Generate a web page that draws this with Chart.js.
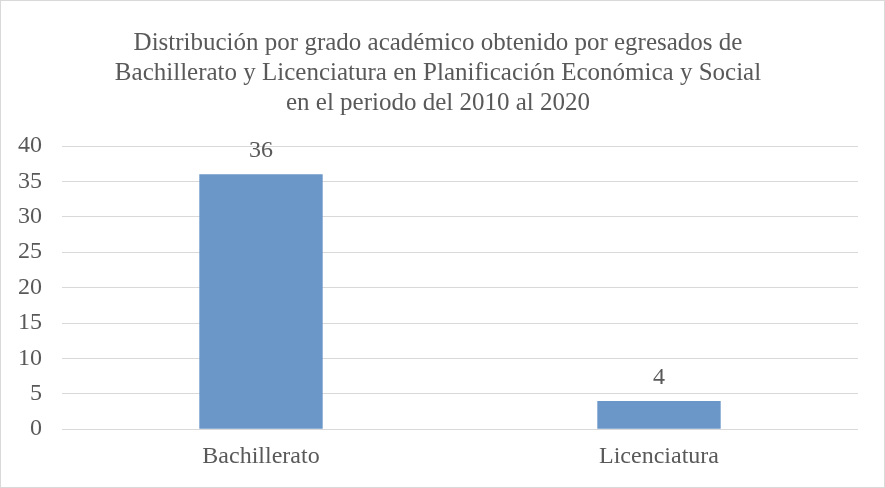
<!DOCTYPE html>
<html>
<head>
<meta charset="utf-8">
<script src="https://cdn.jsdelivr.net/npm/chart.js@4.4.1/dist/chart.umd.min.js"></script>
<style>
html,body{margin:0;padding:0;background:#fff;}
#wrap{position:absolute;left:0;top:0;width:883px;height:486px;border:1px solid #d9d9d9;background:#fff;}
canvas{display:block;}
</style>
</head>
<body>
<div id="wrap"><canvas id="c" width="883" height="486"></canvas></div>
<script>
const categories = ["Bachillerato", "Licenciatura"];
const values = [36, 4];
const titleLines = [
  "Distribución por grado académico obtenido por egresados de",
  "Bachillerato y Licenciatura en Planificación Económica y Social",
  "en el periodo del 2010 al 2020"
];
const yMin = 0, yMax = 40, yStep = 5;

const FONT = "'Liberation Serif', 'Times New Roman', serif";
const TEXT = "#595959";

const dataLabelPlugin = {
  id: 'dataLabels',
  afterDatasetsDraw(chart) {
    const ctx = chart.ctx;
    const meta = chart.getDatasetMeta(0);
    ctx.save();
    ctx.font = "24px " + FONT;
    ctx.fillStyle = TEXT;
    ctx.textAlign = 'center';
    ctx.textBaseline = 'alphabetic';
    meta.data.forEach((bar, i) => {
      ctx.fillText(String(chart.data.datasets[0].data[i]), bar.x, bar.y - 17);
    });
    ctx.restore();
  }
};

new Chart(document.getElementById('c'), {
  type: 'bar',
  data: {
    labels: categories,
    datasets: [{
      data: values,
      backgroundColor: '#6a96c8',
      borderWidth: 0,
      categoryPercentage: 1,
      barPercentage: 0.31
    }]
  },
  options: {
    responsive: false,
    animation: false,
    devicePixelRatio: 1,
    layout: { padding: { left: 17, right: 26, top: 0, bottom: 11 } },
    plugins: {
      legend: { display: false },
      tooltip: { enabled: false },
      title: {
        display: true,
        text: titleLines,
        color: TEXT,
        font: { family: FONT, size: 25, weight: 'normal', lineHeight: 1.2 },
        padding: { top: 27, bottom: 28 }
      }
    },
    scales: {
      x: {
        grid: { display: false },
        border: { display: false },
        ticks: { color: TEXT, font: { family: FONT, size: 24 }, padding: 5 }
      },
      y: {
        min: yMin, max: yMax,
        afterFit(scale) { scale.width = 44; },
        ticks: { stepSize: yStep, color: TEXT, font: { family: FONT, size: 24 }, padding: 20 },
        grid: { color: '#d9d9d9', lineWidth: 1, drawTicks: false },
        border: { display: false }
      }
    }
  },
  plugins: [dataLabelPlugin]
});
</script>
</body>
</html>
